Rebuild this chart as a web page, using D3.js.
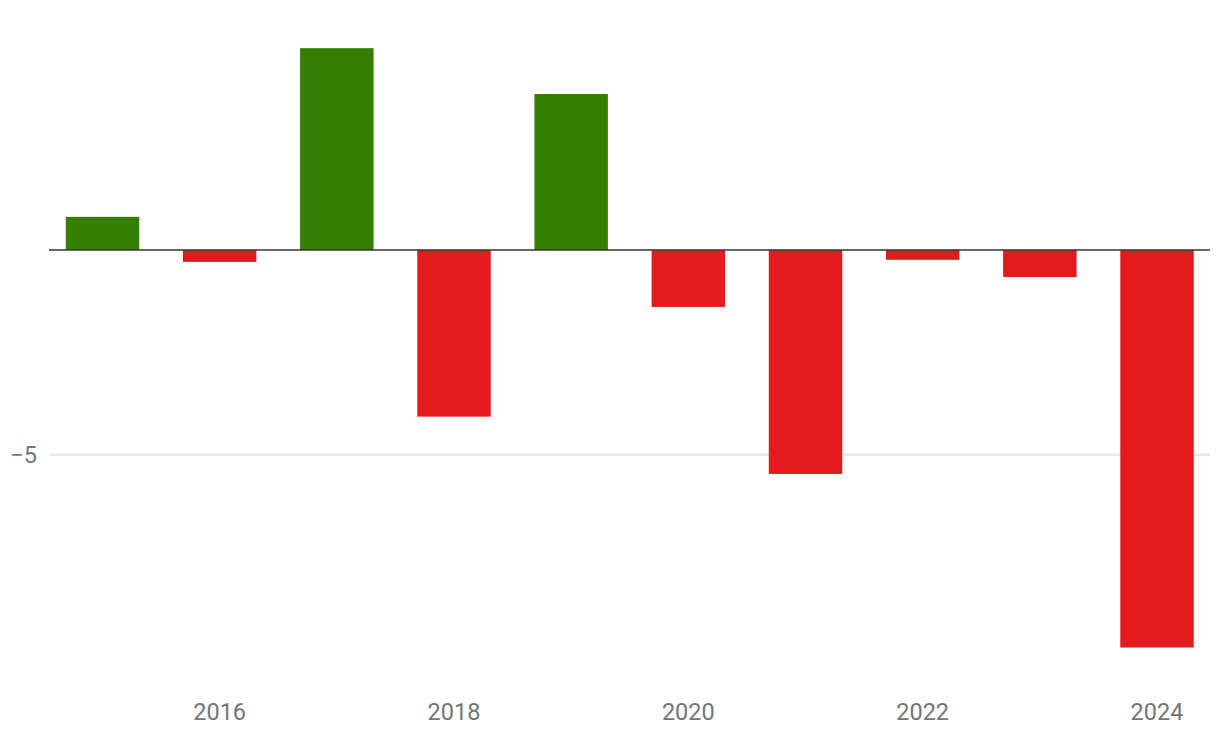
<!DOCTYPE html>
<html>
<head>
<meta charset="utf-8">
<script src="https://cdn.jsdelivr.net/npm/d3@7"></script>
<style>
  html, body { margin: 0; padding: 0; background: #fff; }
  svg { display: block; font-family: Roboto, "Noto Sans", sans-serif; }
</style>
</head>
<body>
<svg id="chart" width="1220" height="742"></svg>
<script>
const years = [2015, 2016, 2017, 2018, 2019, 2020, 2021, 2022, 2023, 2024];
const values = [0.81, -0.29, 4.93, -4.07, 3.81, -1.39, -5.47, -0.24, -0.66, -9.71];
const xTickLabels = [2016, 2018, 2020, 2022, 2024];
const yTickValues = [-5];

const svg = d3.select("#chart");

const x = d3.scaleBand()
  .domain(years)
  .range([43.9, 1215.6])
  .paddingInner(0.373)
  .paddingOuter(0.1865);

const y = d3.scaleLinear()
  .domain([-10, 6])
  .range([250 + 10 * 40.94, 250 - 6 * 40.94]);

// gridlines
svg.append("g")
  .selectAll("line")
  .data(yTickValues)
  .join("line")
  .attr("x1", 50).attr("x2", 1210)
  .attr("y1", d => y(d)).attr("y2", d => y(d))
  .attr("stroke", "#e3e3e3")
  .attr("stroke-width", 2);

// y labels
svg.append("g")
  .selectAll("text")
  .data(yTickValues)
  .join("text")
  .attr("x", 37)
  .attr("y", d => y(d))
  .attr("dy", "0.35em")
  .attr("text-anchor", "end")
  .attr("fill", "#757575")
  .attr("font-size", 23.5)
  .text(d => d < 0 ? "\u2212" + Math.abs(d) : d);

// bars
svg.append("g")
  .selectAll("rect")
  .data(years.map((yr, i) => ({ yr, v: values[i] })))
  .join("rect")
  .attr("x", d => x(d.yr))
  .attr("width", x.bandwidth())
  .attr("y", d => Math.min(y(0), y(d.v)))
  .attr("height", d => Math.abs(y(d.v) - y(0)))
  .attr("fill", d => d.v >= 0 ? "#338000" : "#e31b1e");

// zero line
svg.append("line")
  .attr("x1", 49).attr("x2", 1210)
  .attr("y1", y(0)).attr("y2", y(0))
  .attr("stroke", "#333333")
  .attr("stroke-width", 1.6);

// x labels
svg.append("g")
  .selectAll("text")
  .data(xTickLabels)
  .join("text")
  .attr("x", d => x(d) + x.bandwidth() / 2)
  .attr("y", 712)
  .attr("dy", "0.35em")
  .attr("text-anchor", "middle")
  .attr("fill", "#757575")
  .attr("font-size", 23.5)
  .text(d => d);
</script>
</body>
</html>
